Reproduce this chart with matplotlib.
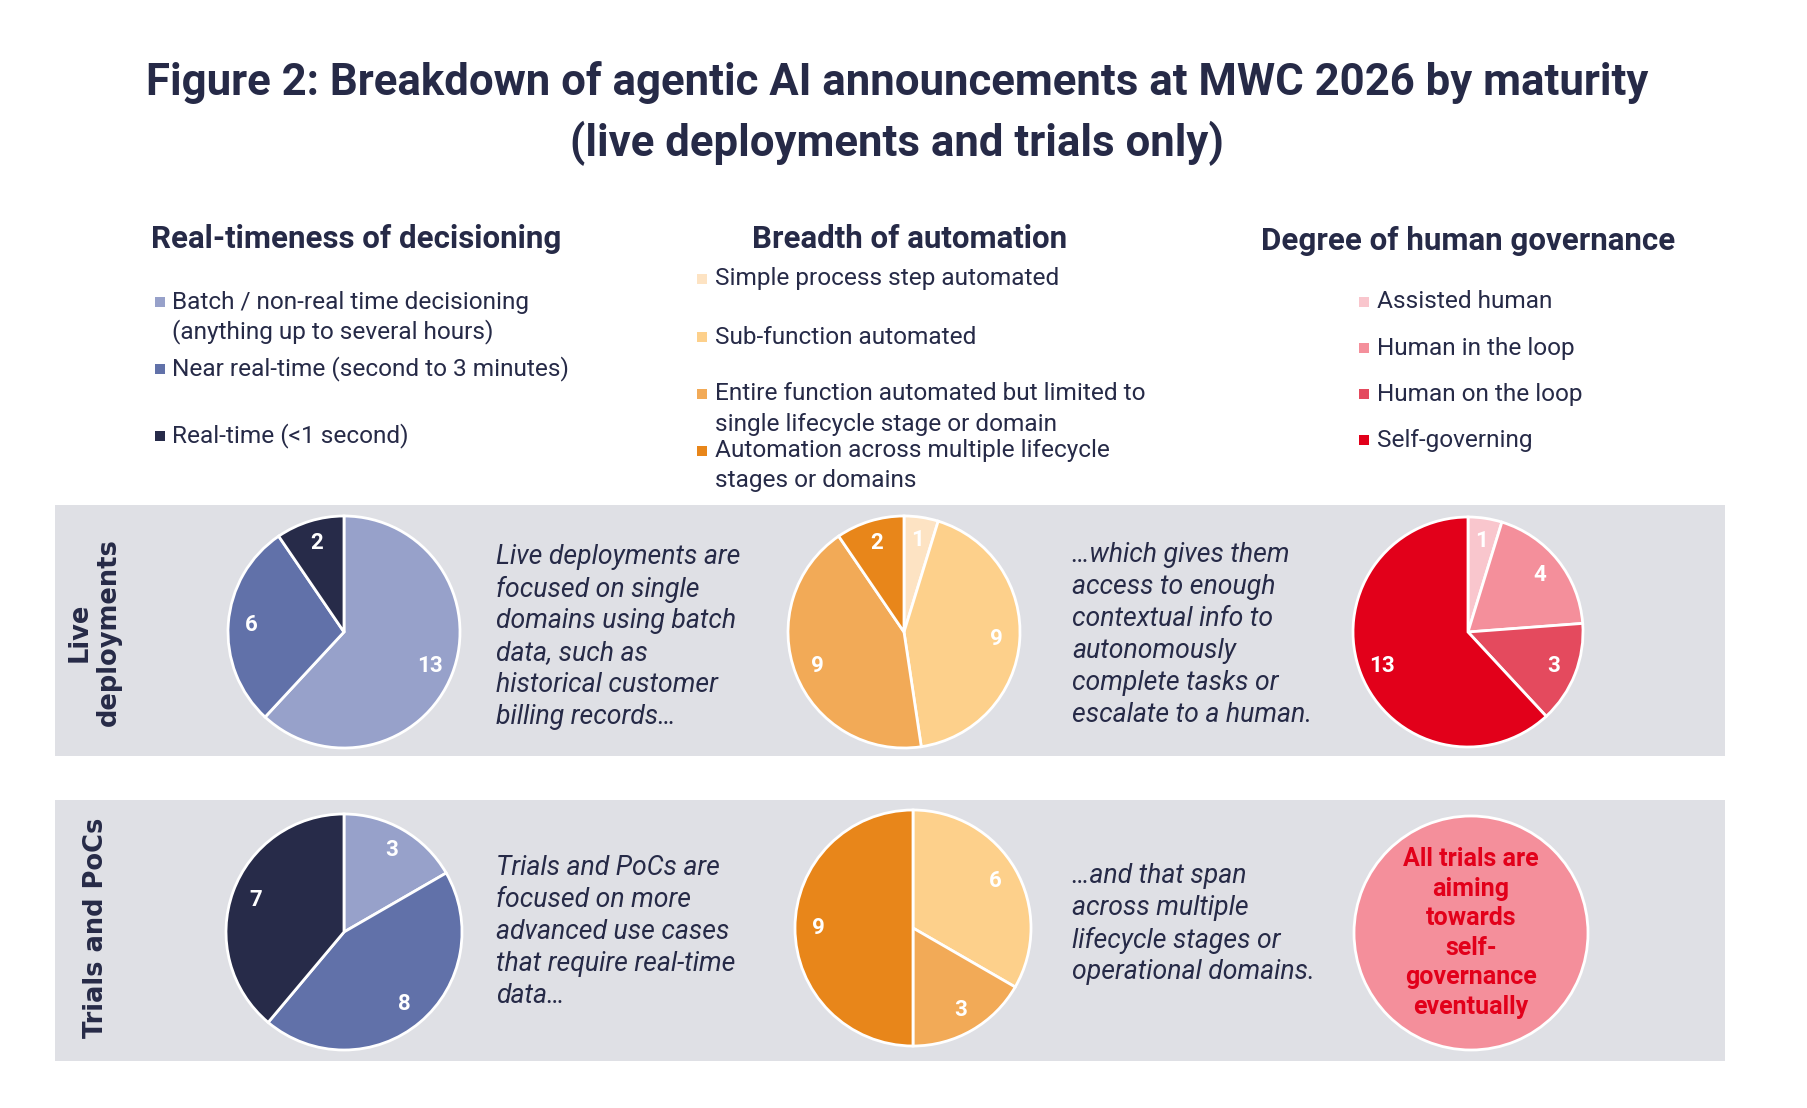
import matplotlib.pyplot as plt
from matplotlib.patches import Rectangle

# Data
realtime_labels = ['Batch / non-real time decisioning\n(anything up to several hours)',
                   'Near real-time (second to 3 minutes)',
                   'Real-time (<1 second)']
realtime_colors = ['#97a1ca', '#6171a9', '#272b49']
realtime_live = [13, 6, 2]
realtime_trials = [3, 8, 7]

automation_labels = ['Simple process step automated',
                     'Sub-function automated',
                     'Entire function automated but limited to\nsingle lifecycle stage or domain',
                     'Automation across multiple lifecycle\nstages or domains']
automation_colors = ['#fde3c3', '#fdd08b', '#f2aa57', '#e8861a']
automation_live = [1, 9, 9, 2]
automation_trials = [0, 6, 3, 9]

governance_labels = ['Assisted human', 'Human in the loop', 'Human on the loop', 'Self-governing']
governance_colors = ['#f9c6cd', '#f48f9b', '#e44a5e', '#e2001a']
governance_live = [1, 4, 3, 13]
governance_trials_note = 'All trials are\naiming\ntowards\nself-\ngovernance\neventually'

row_labels = ['Live\ndeployments', 'Trials and PoCs']
comments_live = ['Live deployments are\nfocused on single\ndomains using batch\ndata, such as\nhistorical customer\nbilling records…',
                 '…which gives them\naccess to enough\ncontextual info to\nautonomously\ncomplete tasks or\nescalate to a human.']
comments_trials = ['Trials and PoCs are\nfocused on more\nadvanced use cases\nthat require real-time\ndata…',
                   '…and that span\nacross multiple\nlifecycle stages or\noperational domains.']

NAVY = '#262a47'
BAND = '#dfe0e5'

W, H = 1808, 1108
fig = plt.figure(figsize=(W / 100, H / 100), dpi=100)
bg = fig.add_axes([0, 0, 1, 1])
bg.set_xlim(0, W)
bg.set_ylim(H, 0)
bg.axis('off')

# Title
bg.text(897, 83, 'Figure 2: Breakdown of agentic AI announcements at MWC 2026 by maturity',
        ha='center', va='center', fontsize=31.5, fontweight='bold', color=NAVY, family='Roboto')
bg.text(897, 143, '(live deployments and trials only)',
        ha='center', va='center', fontsize=31.5, fontweight='bold', color=NAVY, family='Roboto')

# Section headers
headers = [('Real-timeness of decisioning', 356, 239),
           ('Breadth of automation', 910, 239),
           ('Degree of human governance', 1468, 241)]
for txt, x, y in headers:
    bg.text(x, y, txt, ha='center', va='center', fontsize=22.5, fontweight='bold',
            color=NAVY, family='Roboto')


def draw_legend(labels, colors, sq_x, text_x, ys, step=30):
    for lab, col, y in zip(labels, colors, ys):
        bg.add_patch(Rectangle((sq_x - 5, y - 5), 10, 10, color=col, lw=0))
        for i, line in enumerate(lab.split('\n')):
            bg.text(text_x, y + i * step, line, ha='left', va='center', fontsize=17.6,
                    color=NAVY, family='Roboto')


draw_legend(realtime_labels, realtime_colors, 160, 172, [302, 369, 436])
draw_legend(automation_labels, automation_colors, 702, 715, [279, 337, 394, 451])
draw_legend(governance_labels, governance_colors, 1364, 1377, [302, 348, 394, 440])

# Grey bands
bg.add_patch(Rectangle((55, 505), 1670, 251, color=BAND, lw=0))
bg.add_patch(Rectangle((55, 800), 1670, 261, color=BAND, lw=0))

# Row labels
bg.text(94, 632, row_labels[0], rotation=90, ha='center', va='center', multialignment='center',
        fontsize=18.5, fontweight='bold', color=NAVY, family='DejaVu Sans', linespacing=1.15)
bg.text(96, 928, row_labels[1], rotation=90, ha='center', va='center',
        fontsize=18.5, fontweight='bold', color=NAVY, family='DejaVu Sans')


def draw_comment(text, x, y, step=32):
    for i, line in enumerate(text.split('\n')):
        bg.text(x, y + i * step, line, ha='left', va='center', fontsize=19.2,
                style='italic', color=NAVY, family='Roboto')


draw_comment(comments_live[0], 496, 557)
draw_comment(comments_live[1], 1072, 555)
draw_comment(comments_trials[0], 496, 868)
draw_comment(comments_trials[1], 1072, 876)


def draw_pie(cx, cy, r, values, colors, show_values=True):
    lim = 1.03
    ax = fig.add_axes([(cx - r * lim) / W, 1 - (cy + r * lim) / H, 2 * r * lim / W, 2 * r * lim / H])
    vals = [v for v in values if v > 0]
    cols = [c for v, c in zip(values, colors) if v > 0]
    total = sum(vals)
    ax.pie(vals, colors=cols, startangle=90, counterclock=False, radius=1,
           autopct=(lambda p: f'{p * total / 100:.0f}') if show_values else None,
           pctdistance=0.8,
           wedgeprops=dict(edgecolor='white', linewidth=2),
           textprops=dict(color='white', fontsize=16, fontweight='bold', family='Roboto'))
    ax.set_xlim(-lim, lim)
    ax.set_ylim(-lim, lim)
    ax.axis('off')
    return ax


draw_pie(344, 632, 116, realtime_live, realtime_colors)
draw_pie(904, 632, 116, automation_live, automation_colors)
draw_pie(1468, 632, 115, governance_live, governance_colors)

draw_pie(344, 932, 118, realtime_trials, realtime_colors)
draw_pie(913, 928, 118, automation_trials, automation_colors)
note_ax = draw_pie(1471, 933, 117, [1], [governance_colors[1]], show_values=False)

# Note inside the trials governance circle (pie axes units: radius = 1)
note_lines = governance_trials_note.split('\n')
for i, line in enumerate(note_lines):
    note_ax.text(0, (74 - i * 29.6) / 117, line, ha='center', va='center', fontsize=18,
                 fontweight='bold', color='#e2001a', family='Roboto')

fig.savefig('out.png', dpi=100, facecolor='white')
